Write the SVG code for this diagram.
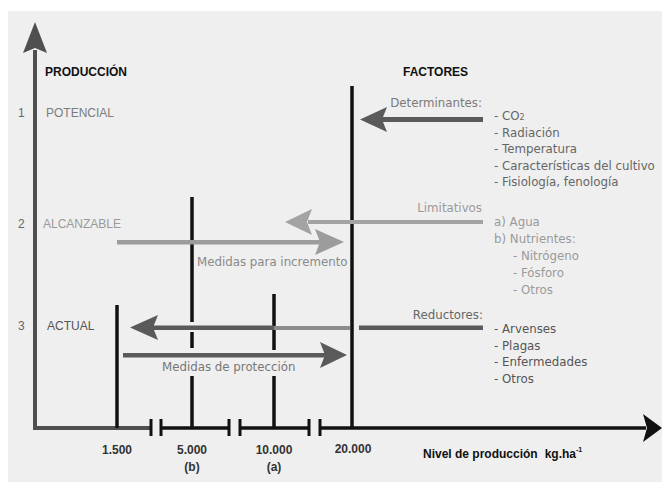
<svg xmlns="http://www.w3.org/2000/svg" width="662" height="482" viewBox="0 0 662 482">
<style>
text{font-family:"Liberation Sans",Arial,sans-serif;font-size:12px}
.r{font-family:"DejaVu Sans",Verdana,sans-serif;font-size:11.8px}
.b{font-weight:bold}
.vl{stroke:#111;stroke-width:3.5;fill:none}
.ax{stroke:#111;stroke-width:3.5;fill:none}
.tk{stroke:#111;stroke-width:3;fill:none}
.dk{fill:#5a5a5a}
.lt{fill:#a3a3a3}
.c6{fill:#666}
.c5{fill:#555}
.c9{fill:#9a9a9a}
.c7{fill:#7a7a7a}
</style>
<rect x="0" y="0" width="662" height="482" fill="#ffffff"/>
<rect x="8" y="11" width="654" height="471" fill="#efefef"/>

<g id="axes">
  <path d="M35,50 V428 H151" stroke="#4f4f4f" stroke-width="4" fill="none"/>
  <path d="M35,22 L47,53 L35,48 L23,53 Z" fill="#4f4f4f"/>
  <line class="tk" x1="151" y1="419" x2="151" y2="436"/>
  <line class="ax" x1="161" y1="428" x2="229" y2="428"/>
  <line class="tk" x1="161" y1="419" x2="161" y2="436"/>
  <line class="tk" x1="229" y1="419" x2="229" y2="436"/>
  <line class="ax" x1="240" y1="428" x2="309" y2="428"/>
  <line class="tk" x1="240" y1="419" x2="240" y2="436"/>
  <line class="tk" x1="309" y1="419" x2="309" y2="436"/>
  <line class="ax" x1="320" y1="428" x2="646" y2="428"/>
  <line class="tk" x1="320" y1="419" x2="320" y2="436"/>
  <path d="M662,428 L643,442 L647,428 L643,414 Z" fill="#111"/>
</g>

<g id="levels">
  <line class="vl" x1="117" y1="305" x2="117" y2="428"/>
  <path class="vl" d="M192,197 V322 M192,332 V348 M192,376 V428"/>
  <path class="vl" d="M274,294 V350 M274,376 V428"/>
  <line class="vl" x1="352" y1="86" x2="352" y2="428"/>
</g>

<g id="connectors">
  <!-- Determinantes -->
  <rect x="382" y="117" width="101" height="5" class="dk"/>
  <path d="M360,119.5 L387,107 L382,119.5 L387,132 Z" class="dk"/>
  <!-- Limitativos -->
  <rect x="308" y="220" width="175" height="4" class="lt"/>
  <path d="M285,222 L312,209 L307,222 L312,235 Z" class="lt"/>
  <!-- Medidas para incremento -->
  <rect x="117" y="240" width="203" height="4.5" fill="#9c9c9c"/>
  <path d="M344,242 L315,229 L320,242 L315,255 Z" fill="#9c9c9c"/>
  <!-- Reductores -->
  <rect x="359" y="325.5" width="124" height="4.5" class="dk"/>
  <rect x="274" y="326" width="76" height="4" fill="#8c8c8c"/>
  <rect x="152" y="325.5" width="122" height="4.5" class="dk"/>
  <path d="M130,327.5 L158,315 L153,327.5 L158,340 Z" class="dk"/>
  <!-- Medidas de protección -->
  <rect x="123" y="353" width="202" height="4.5" class="dk"/>
  <path d="M347,355 L320,342 L325,355 L320,368 Z" class="dk"/>
</g>

<g id="left-labels">
  <text x="45" y="76" class="b" font-size="11" fill="#111">PRODUCCIÓN</text>
  <text x="18" y="117" class="c6" font-size="11.5">1</text>
  <text x="46" y="117" fill="#7c7c7c" font-size="11.5">POTENCIAL</text>
  <text x="18" y="228" class="c6" font-size="11.5">2</text>
  <text x="43" y="228" class="c9" font-size="11.5">ALCANZABLE</text>
  <text x="18" y="330" class="c6" font-size="11.5">3</text>
  <text x="47" y="330" class="c5" font-size="11.5">ACTUAL</text>
</g>

<g id="arrow-labels">
  <text x="197" y="266" class="r" fill="#8a8a8a">Medidas para incremento</text>
  <text x="162" y="371" class="r" fill="#777">Medidas de protección</text>
</g>

<g id="factores">
  <text x="403" y="76" class="b" font-size="11" fill="#111">FACTORES</text>
  <text x="482" y="107" text-anchor="end" class="r c7">Determinantes:</text>
  <text x="494" y="120" class="r c6">- CO<tspan font-size="8">2</tspan></text>
  <text x="494" y="136.5" class="r c6">- Radiación</text>
  <text x="494" y="153" class="r c6">- Temperatura</text>
  <text x="494" y="169.5" class="r c6">- Características del cultivo</text>
  <text x="494" y="186" class="r c6">- Fisiología, fenología</text>
</g>

<g id="limitativos">
  <text x="482" y="212" text-anchor="end" class="r c9">Limitativos</text>
  <text x="494" y="226" class="r c9">a) Agua</text>
  <text x="494" y="243" class="r c9">b) Nutrientes:</text>
  <text x="513" y="260" class="r c9">- Nitrógeno</text>
  <text x="513" y="277" class="r c9">- Fósforo</text>
  <text x="513" y="294" class="r c9">- Otros</text>
</g>

<g id="reductores">
  <text x="483" y="319" text-anchor="end" class="r c6">Reductores:</text>
  <text x="494" y="333" class="r c5">- Arvenses</text>
  <text x="494" y="349.5" class="r c5">- Plagas</text>
  <text x="494" y="366" class="r c5">- Enfermedades</text>
  <text x="494" y="383" class="r c5">- Otros</text>
</g>

<g id="x-labels" fill="#333">
  <text x="117" y="454" text-anchor="middle" class="b">1.500</text>
  <text x="192" y="454" text-anchor="middle" class="b">5.000</text>
  <text x="192" y="471" text-anchor="middle" class="b">(b)</text>
  <text x="274" y="454" text-anchor="middle" class="b">10.000</text>
  <text x="274" y="471" text-anchor="middle" class="b">(a)</text>
  <text x="353" y="453" text-anchor="middle" class="b">20.000</text>
  <text x="423" y="458" class="b" fill="#111">Nivel de producción<tspan dx="7">kg.ha</tspan><tspan font-size="7" dy="-6">-1</tspan></text>
</g>
</svg>
